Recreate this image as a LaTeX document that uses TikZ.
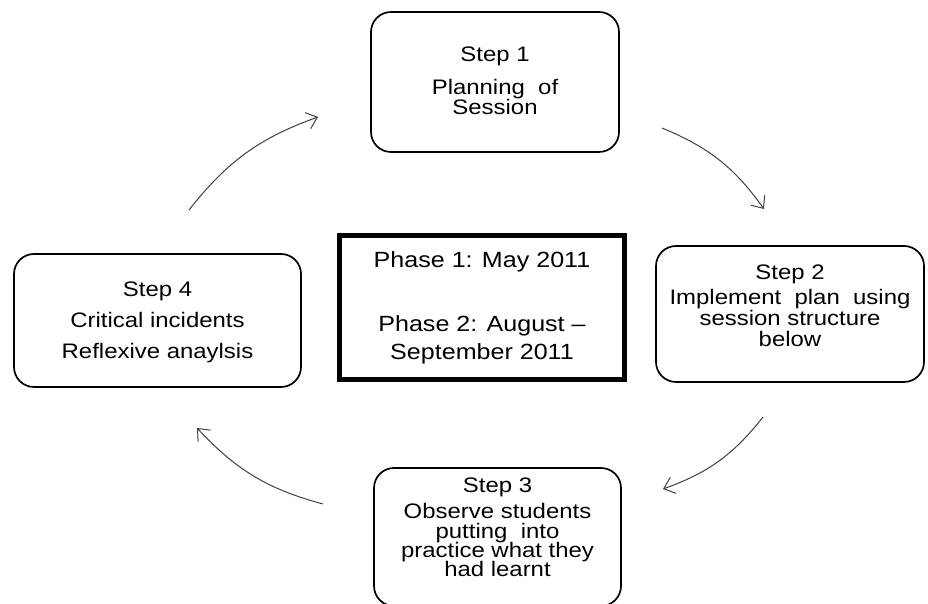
\documentclass[tikz,border=0pt]{standalone}
\usepackage{fontspec}
\setmainfont{Liberation Sans}
\newfontfamily\widefont[FakeStretch=1.14]{Liberation Sans}
\usetikzlibrary{arrows.meta}
\begin{document}
\begin{tikzpicture}[x=1pt,y=1pt,
  stepbox/.style={draw=black,line width=1.7pt,rounded corners=20pt,inner sep=0pt},
  phasebox/.style={draw=black,line width=5.5pt,inner sep=0pt},
  txt/.style={anchor=base,inner sep=0pt,font=\widefont\fontsize{21}{21}\selectfont},
  ptxt/.style={anchor=base,inner sep=0pt,font=\widefont\fontsize{22}{22}\selectfont},
  cyc/.style={draw=black!75,line width=1pt,-{Straight Barb[length=10pt,width=17pt]},bend left=16}]
\clip (0,0) rectangle (928,604);
\fill[white] (0,0) rectangle (928,604);
% boxes
\node[stepbox,minimum width=248pt,minimum height=140pt] (s1) at (495,522) {};
\node[stepbox,minimum width=268pt,minimum height=136pt] (s2) at (790,290) {};
\node[stepbox,minimum width=247pt,minimum height=138pt] (s3) at (497.5,67) {};
\node[stepbox,minimum width=287pt,minimum height=133pt] (s4) at (157.5,283.5) {};
\node[phasebox,minimum width=285pt,minimum height=144pt] (ph) at (482,296.5) {};
% texts
\node[txt] (t1a) at (495,542) {Step 1};
\node[txt] (t1b) at (495,509) {Planning\ \ of};
\node[txt] (t1c) at (495,489) {Session};
\node[txt] (t2a) at (790,324) {Step 2};
\node[txt] (t2b) at (790,299) {Implement\ \ plan\ \ using};
\node[txt] (t2c) at (790,278) {session structure};
\node[txt] (t2d) at (790,257) {below};
\node[txt] (t3a) at (497.5,111) {Step 3};
\node[txt] (t3b) at (497.5,85) {Observe students};
\node[txt] (t3c) at (497.5,65.5) {putting\ \ into};
\node[txt] (t3d) at (497.5,46.5) {practice what they};
\node[txt] (t3e) at (497.5,27.5) {had learnt};
\node[txt] (t4a) at (157.5,307) {Step 4};
\node[txt] (t4b) at (157.5,276) {Critical incidents};
\node[txt] (t4c) at (157.5,245) {Reflexive anaylsis};
\node[ptxt] (pa) at (482,336) {Phase 1: May 2011};
\node[ptxt] (pb) at (482,272) {Phase 2: August –};
\node[ptxt] (pc) at (482,244) {September 2011};
% arrows
\coordinate (a1s) at (189,394); \coordinate (a1e) at (318,487);
\coordinate (a2s) at (662,476); \coordinate (a2e) at (764,395);
\coordinate (a3s) at (763,187); \coordinate (a3e) at (663,115);
\coordinate (a4s) at (323,100); \coordinate (a4e) at (197,176);
\draw[cyc] (a1s) to (a1e);
\draw[cyc] (a2s) to (a2e);
\draw[cyc] (a3s) to (a3e);
\draw[cyc] (a4s) to (a4e);
\end{tikzpicture}
\end{document}
